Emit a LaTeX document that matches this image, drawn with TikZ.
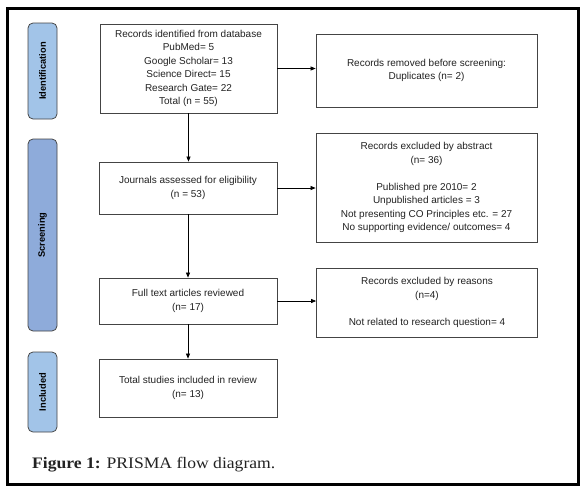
\documentclass[tikz,border=0pt]{standalone}
\usepackage{fontspec}
\setmainfont{Liberation Sans}
\newfontfamily\capfont[FakeStretch=1.1]{Liberation Serif}
\usetikzlibrary{arrows.meta}
\definecolor{idblue}{HTML}{A2C4E8}
\definecolor{scrblue}{HTML}{8EABDA}
\definecolor{edgec}{HTML}{444444}
\definecolor{txtc}{HTML}{222222}
\begin{document}
\begin{tikzpicture}[x=1pt,y=-1pt,
 box/.style={draw=edgec, line width=0.75pt, fill=white, inner sep=0pt, align=center,
   font=\fontsize{10}{13.5}\selectfont, text=txtc},
 pill/.style={draw=edgec, line width=0.75pt, rounded corners=5pt, inner sep=0pt, rotate=90,
   font=\fontsize{9.3}{11}\selectfont\bfseries, text=black, minimum height=29pt},
 arr/.style={-{Triangle[length=5pt,width=4pt]}, line width=0.7pt, draw=black}
]
\useasboundingbox (0,0) rectangle (586,491);
\fill[white] (0,0) rectangle (586,491);
\draw[line width=3pt] (7.5,8.5) rectangle (578.5,484.5);

% phase pills
\node[pill, fill=idblue, minimum width=96pt] (pid) at (42.5,71) {Identification};
\node[pill, fill=scrblue, minimum width=192pt] (pscr) at (42.5,235) {Screening};
\node[pill, fill=idblue, minimum width=80pt] (pinc) at (42.5,392) {Included};

% main column
\node[box, minimum width=177pt, minimum height=89pt] (a) at (188.5,68.5)
  {Records identified from database\\PubMed= 5\\Google Scholar= 13\\Science Direct= 15\\Research Gate= 22\\Total (n = 55)};
\node[box, minimum width=178pt, minimum height=52pt] (b) at (188,188)
  {Journals assessed for eligibility\\(n = 53)};
\node[box, minimum width=178pt, minimum height=46pt] (c) at (188,301)
  {Full text articles reviewed\\(n= 17)};
\node[box, minimum width=178pt, minimum height=58pt] (d) at (188,388)
  {Total studies included in review\\(n= 13)};

% right column
\node[box, minimum width=221pt, minimum height=73pt] (r1) at (426.5,70.5)
  {Records removed before screening:\\Duplicates (n= 2)};
\node[box, minimum width=221pt, minimum height=109pt] (r2) at (426.5,187.5)
  {Records excluded by abstract\\(n= 36)\\[13.5pt]Published pre 2010= 2\\Unpublished articles = 3\\Not presenting CO Principles etc. = 27\\No supporting evidence/ outcomes= 4};
\node[box, minimum width=221pt, minimum height=69pt] (r3) at (427,302.5)
  {Records excluded by reasons\\(n=4)\\[13.5pt]Not related to research question= 4};

% connectors
\draw[arr] (a.south) -- (a.south |- b.north);
\draw[arr] (b.south) -- (b.south |- c.north);
\draw[arr] (c.south) -- (c.south |- d.north);
\draw[arr] (a.east) -- (a.east -| r1.west);
\draw[arr] (b.east) -- (b.east -| r2.west);
\draw[arr] (c.east) -- (c.east -| r3.west);

% caption
\node[anchor=base west, inner sep=0pt, font=\capfont\fontsize{16}{18}\selectfont, text=txtc] (cap) at (32,468)
  {\textbf{Figure 1:} PRISMA flow diagram.};
\end{tikzpicture}
\end{document}
